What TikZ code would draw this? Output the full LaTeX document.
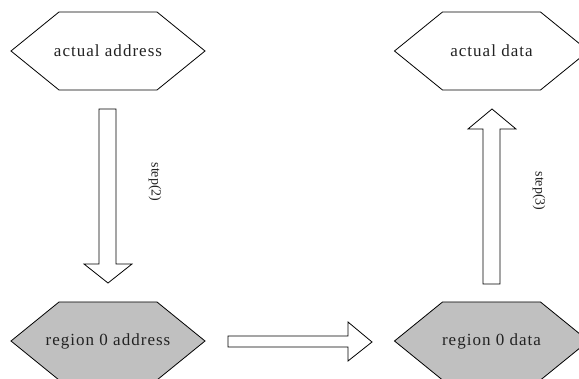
\documentclass[tikz,border=0pt]{standalone}
\usepackage{fontspec}
\setmainfont{Liberation Serif}
\newfontfamily\spacedfont[LetterSpace=6]{Liberation Serif}
\definecolor{hexgray}{HTML}{C0C0C0}
\definecolor{ink}{HTML}{222222}
\newcommand\hexshape[2]{%
  \filldraw[hexline,fill=#2] ([shift={(-97,0)}]#1) -- ([shift={(-49,-39)}]#1) -- ([shift={(49,-39)}]#1) -- ([shift={(97,0)}]#1) -- ([shift={(49,39)}]#1) -- ([shift={(-49,39)}]#1) -- cycle;}
\begin{document}
\begin{tikzpicture}[x=1pt,y=1pt,
  hexline/.style={draw=black,line width=0.8pt},
  blockarrow/.style={draw=black,fill=white,line width=0.8pt,line join=miter},
  hexlabel/.style={font=\spacedfont\fontsize{17}{17}\selectfont,text=ink,inner sep=0pt},
  steplabel/.style={font=\fontsize{14}{14}\selectfont,text=ink,rotate=-90,inner sep=0pt}]
\useasboundingbox (0,0) rectangle (579,378);
\coordinate (aac) at (108,327);
\coordinate (adc) at (491.5,327);
\coordinate (rac) at (108,37);
\coordinate (rdc) at (491.5,37);
\hexshape{aac}{white}
\hexshape{adc}{white}
\hexshape{rac}{hexgray}
\hexshape{rdc}{hexgray}
\node[hexlabel] (aa) at (aac) {actual address};
\node[hexlabel] (ad) at (adc) {actual data};
\node[hexlabel] (ra) at (rac) {region 0 address};
\node[hexlabel] (rd) at (rdc) {region 0 data};
% block arrows
\draw[blockarrow] (99,269) -- (116,269) -- (116,114) -- (132,114) -- (108,95) -- (84,114) -- (99,114) -- cycle;
\draw[blockarrow] (483,94) -- (500,94) -- (500,249) -- (516,249) -- (492,269) -- (468,249) -- (483,249) -- cycle;
\draw[blockarrow] (228,42) -- (348,42) -- (348,56) -- (372,36) -- (348,17) -- (348,31) -- (228,31) -- cycle;
\node[steplabel] (s2) at (155,196) {step(2)};
\node[steplabel] (s3) at (539,187) {step(3)};
\end{tikzpicture}
\end{document}
